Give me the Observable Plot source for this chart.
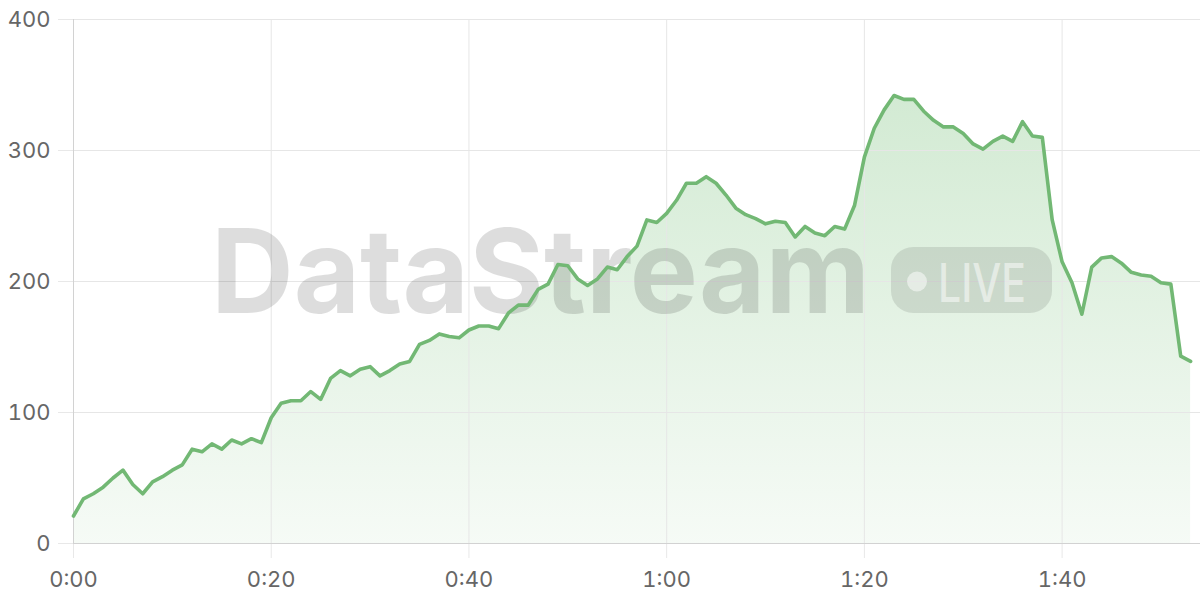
<!DOCTYPE html>
<html>
<head>
<meta charset="utf-8">
<script src="https://cdn.jsdelivr.net/npm/d3@7"></script>
<script src="https://cdn.jsdelivr.net/npm/@observablehq/plot@0.6"></script>
<style>
  html, body { margin: 0; padding: 0; background: #fff; }
  #chart { width: 1200px; height: 600px; }
</style>
</head>
<body>
<div id="chart"></div>
<script>
// Series values, one per minute from 0:00 to 1:53
const values = [
  21, 34, 38, 43, 50, 56, 45, 38, 47, 51,
  56, 60, 72, 70, 76, 72, 79, 76, 80, 77,
  96, 107, 109, 109, 116, 110, 126, 132, 128, 133,
  135, 128, 132, 137, 139, 152, 155, 160, 158, 157,
  163, 166, 166, 164, 176, 182, 182, 194, 198, 213,
  212, 202, 197, 202, 211, 209, 219, 227, 247, 245,
  252, 262, 275, 275, 280, 275, 266, 256, 251, 248,
  244, 246, 245, 234, 242, 237, 235, 242, 240, 258,
  295, 317, 331, 342, 339, 339, 330, 323, 318, 318,
  313, 305, 301, 307, 311, 307, 322, 311, 310, 247,
  215, 199, 175, 211, 218, 219, 214, 207, 205, 204,
  199, 198, 143, 139
];
const xTicks = [0, 20, 40, 60, 80, 100];
const xTickLabels = ["0:00", "0:20", "0:40", "1:00", "1:20", "1:40"];
const yTicks = [0, 100, 200, 300, 400];
const watermarkText = "DataStream";
const liveText = "LIVE";

const data = values.map((v, i) => ({t: i, v}));

const chart = Plot.plot({
  width: 1200,
  height: 600,
  marginLeft: 73,
  marginRight: 0,
  marginTop: 19,
  marginBottom: 57,
  style: {fontFamily: "Inter, 'Open Sans', sans-serif", fontSize: "22px", color: "#666", background: "#fff", overflow: "visible"},
  x: {domain: [0, 114], axis: null, label: null},
  y: {domain: [0, 400], axis: null, label: null},
  marks: [
    Plot.areaY(data, {x: "t", y: "v", fill: "url(#areaGrad)"}),
    Plot.axisY({ticks: yTicks, label: null, tickSize: 15, tickPadding: 8, stroke: "#e8e8e8", fill: "#666", fontSize: 22}),
    Plot.gridY(yTicks, {stroke: "#e6e6e6", strokeOpacity: 1}),
    Plot.axisX({ticks: xTicks, label: null, tickSize: 15, tickPadding: 13, stroke: "#e8e8e8", fill: "#666", fontSize: 22,
      tickFormat: d => xTickLabels[xTicks.indexOf(d)]}),
    Plot.gridX(xTicks, {stroke: "#e6e6e6", strokeOpacity: 1}),
    Plot.ruleX([0], {stroke: "#d2d2d2"}),
    Plot.ruleY([0], {stroke: "#d2d2d2"}),
    Plot.lineY(data, {x: "t", y: "v", stroke: "#72b874", strokeWidth: 3.6, strokeLinejoin: "round"})
  ]
});

document.getElementById("chart").appendChild(chart);

const svg = d3.select(chart);
const defs = svg.insert("defs", ":first-child");
const grad = defs.append("linearGradient").attr("id", "areaGrad")
  .attr("x1", 0).attr("y1", 0).attr("x2", 0).attr("y2", 1);
grad.append("stop").attr("offset", "0%").attr("stop-color", "#7cc27e").attr("stop-opacity", 0.34);
grad.append("stop").attr("offset", "100%").attr("stop-color", "#7cc27e").attr("stop-opacity", 0.07);

// Watermark, placed beneath the line
const lineG = chart.querySelector('g[aria-label="line"]');
const wm = svg.insert("g", () => lineG).attr("pointer-events", "none").attr("text-anchor", "start");
wm.append("text")
  .attr("x", 211).attr("y", 313).attr("text-anchor", "start")
  .attr("font-family", "Inter, sans-serif").attr("font-weight", 700)
  .attr("font-size", 117)
  .attr("textLength", 659).attr("lengthAdjust", "spacingAndGlyphs")
  .attr("fill", "#000").attr("fill-opacity", 0.135)
  .text(watermarkText);
wm.append("rect")
  .attr("x", 891).attr("y", 247).attr("width", 161).attr("height", 66)
  .attr("rx", 22).attr("fill", "#000").attr("fill-opacity", 0.1);
wm.append("circle")
  .attr("cx", 917).attr("cy", 281.5).attr("r", 10)
  .attr("fill", "#fff").attr("fill-opacity", 0.5);
wm.append("text")
  .attr("x", 938).attr("y", 301.5).attr("text-anchor", "start")
  .attr("font-family", "Inter, sans-serif").attr("font-weight", 500)
  .attr("font-size", 53)
  .attr("textLength", 88).attr("lengthAdjust", "spacingAndGlyphs")
  .attr("fill", "#fff").attr("fill-opacity", 0.5)
  .text(liveText);
</script>
</body>
</html>
